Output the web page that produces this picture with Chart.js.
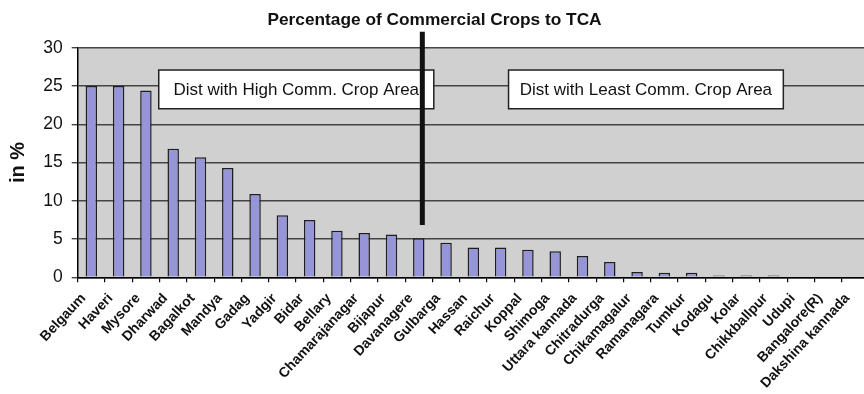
<!DOCTYPE html>
<html>
<head>
<meta charset="utf-8">
<script src="https://cdn.jsdelivr.net/npm/chart.js@4.4.1/dist/chart.umd.min.js"></script>
<style>
  html, body { margin: 0; padding: 0; background: #fff; overflow: hidden; }
  #wrap { position: relative; width: 880px; height: 394px; }
</style>
</head>
<body>
<div id="wrap"><canvas id="chart" width="880" height="394"></canvas></div>
<script>
// Districts, ordered by share of commercial crops in total cropped area
const districts = [
  'Belgaum', 'Haveri', 'Mysore', 'Dharwad', 'Bagalkot', 'Mandya', 'Gadag', 'Yadgir',
  'Bidar', 'Bellary', 'Chamarajanagar', 'Bijapur', 'Davanagere', 'Gulbarga', 'Hassan',
  'Raichur', 'Koppal', 'Shimoga', 'Uttara kannada', 'Chitradurga', 'Chikamagalur',
  'Ramanagara', 'Tumkur', 'Kodagu', 'Kolar', 'Chikkballpur', 'Udupi', 'Bangalore(R)',
  'Dakshina kannada'
];

// Commercial crops as % of TCA
const commCropPct = [
  25.0, 25.0, 24.4, 16.8, 15.7, 14.3, 10.9, 8.1,
  7.5, 6.1, 5.8, 5.6, 5.1, 4.5, 3.9,
  3.9, 3.6, 3.4, 2.8, 2.0, 0.7,
  0.6, 0.6, 0.25, 0.25, 0.25, 0, 0,
  0
];

// Value axis ticks
const yTicks = [0, 5, 10, 15, 20, 25, 30];

// Group labels and the divider between the two groups (category-index / value units)
const groupLabels = ['Dist with High Comm. Crop Area', 'Dist with Least Comm. Crop Area'];
const groupBoxes = [
  { from: 2.47, to: 12.55, low: 22.03, high: 27.09 },
  { from: 15.29, to: 25.36, low: 22.03, high: 27.09 }
];
const divider = { at: 12.13, low: 6.83, high: 32.1 };

const FONT = '"Liberation Sans", Arial, Helvetica, sans-serif';

const plotBackground = {
  id: 'plotBackground',
  beforeDraw(chart) {
    const { ctx, chartArea: a } = chart;
    ctx.save();
    ctx.fillStyle = '#d0d0d0';
    ctx.fillRect(a.left, a.top, a.right - a.left, a.bottom - a.top);
    ctx.restore();
  }
};

const groupMarks = {
  id: 'groupMarks',
  afterDraw(chart) {
    const { ctx } = chart;
    const xs = chart.scales.x, ys = chart.scales.y;
    ctx.save();
    groupBoxes.forEach((b, i) => {
      const x0 = xs.getPixelForValue(b.from), x1 = xs.getPixelForValue(b.to);
      const y0 = ys.getPixelForValue(b.high), y1 = ys.getPixelForValue(b.low);
      ctx.fillStyle = '#ffffff';
      ctx.fillRect(x0, y0, x1 - x0, y1 - y0);
      ctx.strokeStyle = '#222222';
      ctx.lineWidth = 1.5;
      ctx.strokeRect(x0, y0, x1 - x0, y1 - y0);
      ctx.fillStyle = '#111111';
      ctx.font = '17px ' + FONT;
      ctx.textAlign = 'center';
      ctx.textBaseline = 'middle';
      ctx.fillText(groupLabels[i], (x0 + x1) / 2, (y0 + y1) / 2 + 1);
    });
    const dx = xs.getPixelForValue(divider.at);
    ctx.strokeStyle = '#111111';
    ctx.lineWidth = 5;
    ctx.beginPath();
    ctx.moveTo(dx, ys.getPixelForValue(divider.high));
    ctx.lineTo(dx, ys.getPixelForValue(divider.low));
    ctx.stroke();
    ctx.restore();
  }
};

new Chart(document.getElementById('chart'), {
  type: 'bar',
  data: {
    labels: districts,
    datasets: [{
      label: 'Percentage of Commercial Crops to TCA',
      data: commCropPct,
      backgroundColor: '#9595d8',
      borderColor: '#1e1e1e',
      borderWidth: 1.5,
      categoryPercentage: 1.0,
      barPercentage: 0.42
    }]
  },
  options: {
    responsive: false,
    animation: false,
    layout: { padding: { left: 0, right: 11, top: 0, bottom: 0 } },
    plugins: {
      legend: { display: false },
      tooltip: { enabled: false },
      title: {
        display: true,
        text: 'Percentage of Commercial Crops to TCA',
        color: '#111',
        font: { family: FONT, size: 17.3, weight: 'bold', lineHeight: 1.2 },
        padding: { top: 10, bottom: 17 }
      }
    },
    scales: {
      x: {
        grid: {
          display: true,
          drawOnChartArea: false,
          drawTicks: true,
          tickLength: 5,
          color: '#000',
          lineWidth: 1.2
        },
        border: { display: true, color: '#000', width: 1.5 },
        ticks: {
          color: '#111',
          font: { family: FONT, size: 14, weight: 'bold' },
          minRotation: 47,
          maxRotation: 47,
          autoSkip: false,
          padding: 8,
          labelOffset: -8
        },
        afterFit(scale) { scale.height = 116.7; }
      },
      y: {
        min: 0,
        max: 30,
        afterBuildTicks(scale) { scale.ticks = yTicks.map(v => ({ value: v })); },
        grid: {
          color: '#444',
          lineWidth: 1.4,
          tickLength: 6,
          drawTicks: true
        },
        border: { display: true, color: '#000', width: 1.5 },
        ticks: {
          color: '#111',
          font: { family: FONT, size: 17.5 },
          padding: 9
        },
        title: {
          display: true,
          text: 'in %',
          color: '#111',
          font: { family: FONT, size: 20, weight: 'bold', lineHeight: 1.2 },
          padding: { top: 6, bottom: 0 }
        },
        afterFit(scale) { scale.width = 77.7; }
      }
    }
  },
  plugins: [plotBackground, groupMarks]
});
</script>
</body>
</html>
